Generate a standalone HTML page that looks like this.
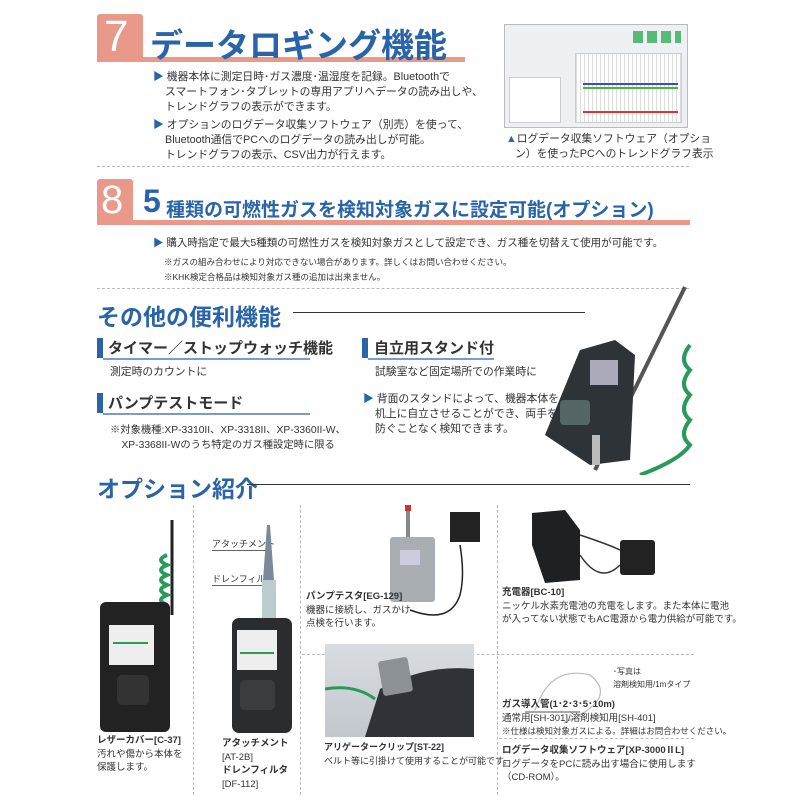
<!DOCTYPE html>
<html><head><meta charset="utf-8"><style>
body{margin:0;width:800px;height:800px;background:#fff;position:relative;overflow:hidden;font-family:"Liberation Sans","Noto Sans CJK JP",sans-serif;color:#333}
.a{position:absolute;white-space:nowrap}
.t{font-size:10.8px;line-height:15px;color:#333}
.s{font-size:9px;line-height:13.5px;color:#333}
.blue{color:#2a64a8;font-weight:bold}
.tri{color:#2a64a8}
.dash{position:absolute;border-top:1.5px dashed #bbb}
.vd{position:absolute;border-left:1.5px dashed #bbb}
.bar{position:absolute;width:6px;height:20px;background:#2a64a8}
.ul{position:absolute;height:2px;background:#7a9ccc}
</style></head><body>
<!-- section 7 -->
<div class="a" style="left:97px;top:14px;width:46px;height:46px;background:#e8998a;border-radius:3px 3px 0 0"></div>
<div class="a" style="left:104px;top:12px;font-size:44px;color:#fff;font-weight:normal">7</div>
<div class="a" style="left:97px;top:57px;width:368px;height:5px;background:#e8998a"></div>
<div class="a blue" style="left:150px;top:19px;font-size:33px">データロギング機能</div>
<div class="a t" style="left:153px;top:70px"><span class="tri">▶</span> 機器本体に測定日時･ガス濃度･温湿度を記録。Bluetoothで<br>&nbsp;&nbsp;&nbsp;&nbsp;スマートフォン･タブレットの専用アプリへデータの読み出しや、<br>&nbsp;&nbsp;&nbsp;&nbsp;トレンドグラフの表示ができます。</div>
<div class="a t" style="left:153px;top:118px"><span class="tri">▶</span> オプションのログデータ収集ソフトウェア（別売）を使って、<br>&nbsp;&nbsp;&nbsp;&nbsp;Bluetooth通信でPCへのログデータの読み出しが可能。<br>&nbsp;&nbsp;&nbsp;&nbsp;トレンドグラフの表示、CSV出力が行えます。</div>
<!-- screenshot -->
<div class="a" style="left:504px;top:24px;width:182px;height:102px;background:#eef0f3;border:1px solid #bbb">
 <div class="a" style="left:70px;top:28px;width:105px;height:68px;background:#fff;border:1px solid #ccc;background-image:repeating-linear-gradient(90deg,#ddd 0 1px,transparent 1px 4px)"></div>
 <div class="a" style="left:78px;top:58px;width:95px;height:2px;background:#3050c0"></div>
 <div class="a" style="left:78px;top:62px;width:95px;height:2px;background:#50b040"></div>
 <div class="a" style="left:78px;top:86px;width:95px;height:2px;background:#e03030"></div>
 <div class="a" style="left:4px;top:52px;width:50px;height:44px;background:#fff;border:1px solid #ccc"></div>
 <div class="a" style="left:128px;top:6px;width:48px;height:12px;background:repeating-linear-gradient(90deg,#5b7 0 10px,transparent 10px 14px)"></div>
</div>
<div class="a t" style="left:506px;top:132px"><span class="tri">▲</span>ログデータ収集ソフトウェア（オプショ<br>&nbsp;&nbsp;&nbsp;ン）を使ったPCへのトレンドグラフ表示</div>
<div class="dash" style="left:97px;top:166px;width:592px"></div>
<!-- section 8 -->
<div class="a" style="left:97px;top:179px;width:36px;height:44px;background:#e8998a;border-radius:3px 3px 0 0"></div>
<div class="a" style="left:101px;top:178px;font-size:40px;color:#fff">8</div>
<div class="a" style="left:97px;top:220px;width:593px;height:5px;background:#e8998a"></div>
<div class="a blue" style="left:143px;top:183px;font-size:32px">5</div>
<div class="a blue" style="left:166px;top:195px;font-size:19px">種類の可燃性ガスを検知対象ガスに設定可能(オプション)</div>
<div class="a t" style="left:153px;top:236px;font-size:10.5px"><span class="tri">▶</span> 購入時指定で最大5種類の可燃性ガスを検知対象ガスとして設定でき、ガス種を切替えて使用が可能です。</div>
<div class="a s" style="left:164px;top:255px;font-size:8.5px;line-height:15px">※ガスの組み合わせにより対応できない場合があります。詳しくはお問い合わせください。<br>※KHK検定合格品は検知対象ガス種の追加は出来ません。</div>
<div class="dash" style="left:97px;top:288px;width:592px"></div>
<!-- other features -->
<div class="a blue" style="left:97px;top:298px;font-size:23px">その他の便利機能</div>
<div class="a" style="left:293px;top:312px;width:292px;height:1px;background:#333"></div>
<div class="bar" style="left:97px;top:338px"></div>
<div class="a" style="left:108px;top:337px;font-size:15px;font-weight:bold;color:#333">タイマー／ストップウォッチ機能</div>
<div class="ul" style="left:103px;top:358px;width:207px"></div>
<div class="a t" style="left:110px;top:365px">測定時のカウントに</div>
<div class="bar" style="left:97px;top:393px"></div>
<div class="a" style="left:108px;top:392px;font-size:15px;font-weight:bold;color:#333">パンプテストモード</div>
<div class="ul" style="left:103px;top:413px;width:207px"></div>
<div class="a t" style="left:110px;top:423px;font-size:10.3px">※対象機種:XP-3310II、XP-3318II、XP-3360II-W、<br>&nbsp;&nbsp;&nbsp;&nbsp;XP-3368II-Wのうち特定のガス種設定時に限る</div>
<div class="bar" style="left:362px;top:338px"></div>
<div class="a" style="left:374px;top:337px;font-size:15px;font-weight:bold;color:#333">自立用スタンド付</div>
<div class="ul" style="left:368px;top:358px;width:126px"></div>
<div class="a t" style="left:375px;top:365px">試験室など固定場所での作業時に</div>
<div class="a t" style="left:363px;top:392px"><span class="tri">▶</span> 背面のスタンドによって、機器本体を<br>&nbsp;&nbsp;&nbsp;&nbsp;机上に自立させることができ、両手を<br>&nbsp;&nbsp;&nbsp;&nbsp;防ぐことなく検知できます。</div>
<!-- device right -->
<svg class="a" style="left:540px;top:285px" width="160" height="190">
 <line x1="145" y1="2" x2="55" y2="185" stroke="#555" stroke-width="4"/>
 <path d="M150 60 q-12 15 0 25 q-12 15 0 25 q-12 15 0 25 q-12 15 0 25 q-10 15 -50 30" stroke="#2a9a5a" stroke-width="4" fill="none"/>
 <path d="M40 65 L75 55 L95 70 L90 175 L50 180 L5 150 Z" fill="#2e3338"/>
 <rect x="50" y="75" width="28" height="25" fill="#aab" />
 <rect x="20" y="115" width="30" height="25" fill="#566" rx="4"/>
 <rect x="52" y="150" width="8" height="30" fill="#bbb"/>
</svg>
<!-- options -->
<div class="a blue" style="left:97px;top:470px;font-size:23px">オプション紹介</div>
<div class="a" style="left:247px;top:484px;width:443px;height:1px;background:#333"></div>
<div class="vd" style="left:193px;top:505px;height:290px"></div>
<div class="vd" style="left:300px;top:505px;height:290px"></div>
<div class="vd" style="left:497px;top:505px;height:290px"></div>
<div class="dash" style="left:302px;top:654px;width:392px"></div>
<div class="dash" style="left:499px;top:738px;width:195px"></div>
<!-- leather cover -->
<svg class="a" style="left:97px;top:520px" width="95" height="215">
 <line x1="75" y1="0" x2="75" y2="95" stroke="#222" stroke-width="3"/>
 <path d="M70 35 q-12 5 0 10 q-12 5 0 10 q-12 5 0 10 q-12 5 0 10 q-12 5 0 10" stroke="#2a9a5a" stroke-width="4" fill="none"/>
 <rect x="3" y="82" width="70" height="130" rx="6" fill="#222"/>
 <rect x="12" y="105" width="45" height="40" fill="#eee"/>
 <rect x="16" y="122" width="35" height="2" fill="#2a9a5a"/>
 <rect x="20" y="155" width="32" height="30" rx="5" fill="#333"/>
</svg>
<div class="a s" style="left:97px;top:734px;font-size:9.5px"><b>レザーカバー[C-37]</b><br>汚れや傷から本体を<br>保護します。</div>
<!-- attachment -->
<div class="a s" style="left:212px;top:538px">アタッチメント</div>
<div class="a" style="left:212px;top:550px;width:57px;height:1px;background:#666"></div>
<div class="a s" style="left:212px;top:573px">ドレンフィルタ</div>
<div class="a" style="left:212px;top:585px;width:55px;height:1px;background:#666"></div>
<svg class="a" style="left:212px;top:520px" width="80" height="215">
 <path d="M55 5 L58 5 L62 60 L51 60 Z" fill="#7a8a99"/>
 <rect x="50" y="60" width="14" height="40" fill="#bcc"/>
 <rect x="20" y="98" width="60" height="115" rx="7" fill="#2a2c2e"/>
 <rect x="25" y="110" width="40" height="40" fill="#eee"/>
 <rect x="28" y="132" width="34" height="2" fill="#2a9a5a"/>
 <rect x="28" y="160" width="35" height="30" rx="5" fill="#3a3c3e"/>
</svg>
<div class="a s" style="left:222px;top:737px;font-size:9.5px"><b>アタッチメント</b><br>[AT-2B]<br><b>ドレンフィルタ</b><br>[DF-112]</div>
<!-- pump tester -->
<svg class="a" style="left:380px;top:500px" width="110" height="120">
 <rect x="26" y="5" width="4" height="32" fill="#888"/>
 <rect x="25" y="5" width="6" height="6" fill="#c33"/>
 <rect x="10" y="37" width="45" height="65" rx="3" fill="#a9aeb3"/>
 <rect x="20" y="50" width="20" height="15" fill="#ccd"/>
 <rect x="70" y="12" width="30" height="30" fill="#222"/>
 <path d="M80 45 q5 30 0 50 q-10 30 -50 15" stroke="#222" fill="none" stroke-width="1.5"/>
</svg>
<div class="a s" style="left:306px;top:590px;font-size:9.5px"><b>パンプテスタ[EG-129]</b><br>機器に接続し、ガスかけ<br>点検を行います。</div>
<!-- charger -->
<svg class="a" style="left:520px;top:505px" width="170" height="85">
 <path d="M12 8 L45 5 L60 25 L60 75 L25 78 L12 40 Z" fill="#1f2022"/>
 <rect x="100" y="35" width="35" height="35" rx="3" fill="#222"/>
 <path d="M60 30 q30 10 40 15 M100 60 q-20 20 -40 -10" stroke="#333" fill="none" stroke-width="1.5"/>
</svg>
<div class="a s" style="left:502px;top:586px;font-size:9.5px"><b>充電器[BC-10]</b><br>ニッケル水素充電池の充電をします。また本体に電池<br>が入ってない状態でもAC電源から電力供給が可能です。</div>
<!-- alligator -->
<div class="a" style="left:325px;top:644px;width:149px;height:93px;background:linear-gradient(#d9dde2,#c2c7cd)"></div>
<svg class="a" style="left:325px;top:644px" width="149" height="93">
 <path d="M40 93 L55 45 Q100 20 149 25 L149 93 Z" fill="#2f3337"/>
 <rect x="55" y="15" width="30" height="35" rx="3" fill="#8c9196" transform="rotate(-10 70 30)"/>
 <path d="M0 45 Q30 40 50 55" stroke="#2a9a5a" stroke-width="3" fill="none"/>
</svg>
<div class="a s" style="left:324px;top:741px;font-size:9px"><b>アリゲータークリップ[ST-22]</b><br>ベルト等に引掛けて使用することが可能です。</div>
<!-- gas tube -->
<svg class="a" style="left:520px;top:670px" width="100" height="75">
 <path d="M15 40 Q30 -5 70 5 Q95 25 60 45 Q40 55 45 52" stroke="#bbb" fill="none" stroke-width="1.2"/>
 <line x1="5" y1="42" x2="60" y2="42" stroke="#888" stroke-width="1.5"/>
</svg>
<div class="a s" style="left:613px;top:665px;font-size:8px;line-height:13px">･写真は<br>溶剤検知用/1mタイプ</div>
<div class="a s" style="left:502px;top:698px;font-size:9.5px"><b>ガス導入管(1･2･3･5･10m)</b><br>通常用[SH-301]/溶剤検知用[SH-401]<br><span style="font-size:8.5px">※仕様は検知対象ガスによる。詳細はお問合わせください。</span></div>
<div class="a s" style="left:502px;top:744px;font-size:9.5px"><b>ログデータ収集ソフトウェア[XP-3000ⅡL]</b><br>ログデータをPCに読み出す場合に使用します<br>（CD-ROM）。</div>
</body></html>
